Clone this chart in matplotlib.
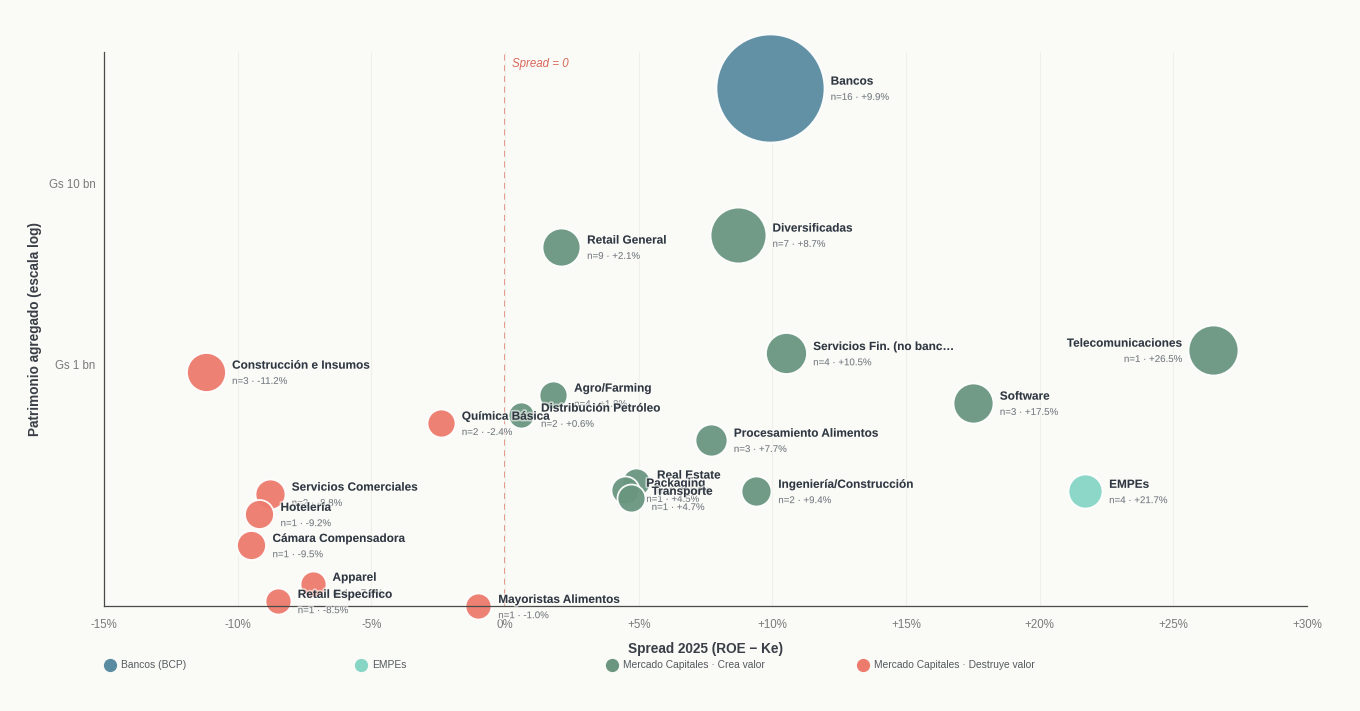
import numpy as np
import matplotlib.pyplot as plt
import matplotlib.patheffects as pe
from matplotlib.lines import Line2D

plt.rcParams['font.family'] = ['Liberation Sans', 'DejaVu Sans']

# Datos por sector (patrimonio en Gs bn, spread en %)
sectores = ['Bancos', 'Diversificadas', 'Retail General', 'Servicios Fin. (no bancarios)',
            'Telecomunicaciones', 'Software', 'Construcción e Insumos', 'Agro/Farming',
            'Distribución Petróleo', 'Química Básica', 'Procesamiento Alimentos',
            'Real Estate', 'Packaging', 'Transporte', 'Ingeniería/Construcción', 'EMPEs',
            'Servicios Comerciales', 'Hotelería', 'Cámara Compensadora', 'Apparel',
            'Retail Específico', 'Mayoristas Alimentos']
n_emp = [16, 7, 9, 4, 1, 3, 3, 4, 2, 2, 3, 2, 1, 1, 2, 4, 2, 1, 1, 1, 1, 1]
spread = [9.9, 8.7, 2.1, 10.5, 26.5, 17.5, -11.2, 1.8, 0.6, -2.4, 7.7,
          4.9, 4.5, 4.7, 9.4, 21.7, -8.8, -9.2, -9.5, -7.2, -8.5, -1.0]
patrimonio = [33.9, 5.23, 4.49, 1.16, 1.21, 0.617, 0.915, 0.683, 0.53, 0.478, 0.385,
              0.226, 0.204, 0.184, 0.201, 0.201, 0.194, 0.150, 0.101, 0.0616, 0.0496, 0.0465]
peso = [29.2, 7.8, 3.6, 4.2, 6.25, 4.0, 3.8, 1.96, 1.69, 1.96, 2.56,
        1.96, 1.96, 1.96, 2.25, 2.9, 2.25, 2.1, 2.1, 1.69, 1.69, 1.69]
grupo = ['banco', 'crea', 'crea', 'crea', 'crea', 'crea', 'destruye', 'crea', 'crea',
         'destruye', 'crea', 'crea', 'crea', 'crea', 'crea', 'empes', 'destruye',
         'destruye', 'destruye', 'destruye', 'destruye', 'destruye']
etiqueta_izq = ['Telecomunicaciones']

orden_grupos = ['banco', 'empes', 'crea', 'destruye']
colores = {'banco': '#5a8ca1', 'empes': '#86d5c5', 'crea': '#6a9680', 'destruye': '#ec7b6d'}
nombres_grupo = {'banco': 'Bancos (BCP)', 'empes': 'EMPEs',
                 'crea': 'Mercado Capitales · Crea valor',
                 'destruye': 'Mercado Capitales · Destruye valor'}
bg = '#fafaf6'

fig = plt.figure(figsize=(13.6, 7.11), dpi=100, facecolor=bg)
ax = fig.add_axes([104/1360, 1-606/711, (1307-104)/1360, (606-52)/711])
ax.set_facecolor(bg)

ax.set_xlim(-15, 30)
ax.set_yscale('log')
ax.set_ylim(4.66e7, 5.35e10)

xt = np.arange(-15, 31, 5)
ax.set_xticks(xt)
ax.set_xticklabels(['0%' if v == 0 else f'{v:+d}%' for v in xt])
ax.set_yticks([1e9, 1e10])
ax.set_yticklabels(['Gs 1 bn', 'Gs 10 bn'])
ax.minorticks_off()
ax.tick_params(length=0, labelsize=8.3, labelcolor='#7a7a7a')
ax.tick_params(axis='x', pad=9)
ax.tick_params(axis='y', pad=6)
ax.grid(True, axis='x', color='#f0f0eb', lw=0.8, zorder=0)
for s in ['top', 'right']:
    ax.spines[s].set_visible(False)
for s in ['left', 'bottom']:
    ax.spines[s].set_color('#4a4a4a')
    ax.spines[s].set_linewidth(0.9)
    ax.spines[s].set_zorder(4)

ax.axvline(0, color='#e07a6d', ls=(0, (4, 3)), lw=1.1, zorder=1.5)
ax.annotate('Spread = 0', xy=(0, 1), xycoords=('data', 'axes fraction'),
            xytext=(5, -9), textcoords='offset points', fontsize=8.3,
            style='italic', color='#d9665a', ha='left', va='center')

halo = [pe.withStroke(linewidth=2.5, foreground=bg, alpha=0.6)]
for i, nom in enumerate(sectores):
    x = spread[i]
    y = patrimonio[i] * 1e9
    r_px = 10 * np.sqrt(peso[i])
    ax.scatter([x], [y], s=(1.44 * r_px) ** 2, color=colores[grupo[i]], alpha=0.95,
               edgecolors='white', linewidths=1.3, zorder=2, clip_on=False)
for i, nom in enumerate(sectores):
    x = spread[i]
    y = patrimonio[i] * 1e9
    r_px = 10 * np.sqrt(peso[i])
    txt = nom if len(nom) <= 24 else nom[:23] + '…'
    sub = f'n={n_emp[i]} · {spread[i]:+.1f}%'
    if nom in etiqueta_izq:
        dx, ha = -(r_px + 6) * 0.72, 'right'
    else:
        dx, ha = (r_px + 7) * 0.72, 'left'
    ax.annotate(txt, (x, y), xytext=(dx, 4.5), textcoords='offset points',
                fontsize=8.5, fontweight='bold', color='#2f3742', ha=ha, va='center',
                zorder=5, path_effects=halo, annotation_clip=False)
    ax.annotate(sub, (x, y), xytext=(dx, -6.5), textcoords='offset points',
                fontsize=7, color='#757b82', ha=ha, va='center',
                zorder=5, path_effects=halo, annotation_clip=False)

ax.set_xlabel('Spread 2025 (ROE − Ke)', fontsize=9.8, fontweight='bold',
              color='#3a3f47', labelpad=8)
ax.set_ylabel('Patrimonio agregado (escala log)', fontsize=9.8, fontweight='bold',
              color='#3a3f47', labelpad=5)

# leyenda manual, columnas equiespaciadas
for k, g in enumerate(orden_grupos):
    x0 = (110 + 251 * k) / 1360
    y0 = 1 - 665 / 711
    fig.add_artist(Line2D([x0], [y0], marker='o', ls='', markersize=8.5,
                          color=colores[g], transform=fig.transFigure))
    fig.text(x0 + 11 / 1360, y0, nombres_grupo[g], fontsize=7.4, color='#555a60',
             ha='left', va='center')

fig.savefig('out.png', dpi=100, facecolor=bg)
